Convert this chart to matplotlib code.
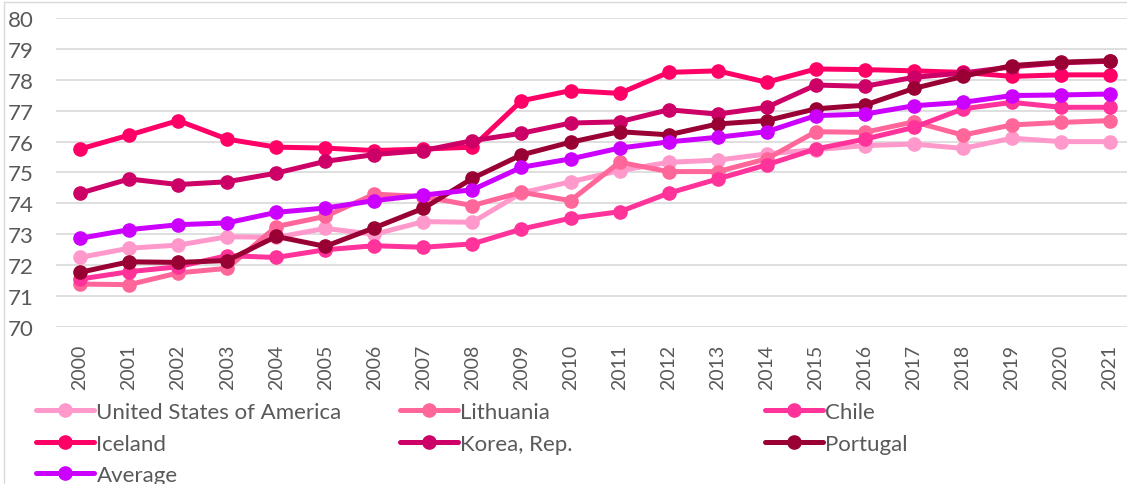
import numpy as np
import matplotlib.pyplot as plt
from matplotlib.patches import Rectangle

years = [str(y) for y in range(2000, 2022)]

usa = [72.25, 72.55, 72.65, 72.92, 72.90, 73.19, 73.00, 73.41, 73.39, 74.34, 74.70,
       75.06, 75.33, 75.40, 75.60, 75.74, 75.87, 75.92, 75.78, 76.11, 76.00, 76.00]
lithuania = [71.39, 71.37, 71.75, 71.90, 73.25, 73.58, 74.30, 74.22, 73.93, 74.36, 74.09,
             75.33, 75.03, 75.03, 75.44, 76.32, 76.30, 76.64, 76.21, 76.54, 76.62, 76.68]
chile = [71.55, 71.79, 71.95, 72.31, 72.25, 72.50, 72.63, 72.58, 72.69, 73.17, 73.52,
         73.73, 74.33, 74.79, 75.25, 75.76, 76.08, 76.46, 77.06, 77.27, 77.11, 77.11]
iceland = [75.76, 76.21, 76.68, 76.08, 75.82, 75.79, 75.71, 75.76, 75.82, 77.32, 77.65,
           77.56, 78.24, 78.29, 77.92, 78.35, 78.33, 78.29, 78.24, 78.11, 78.16, 78.16]
korea = [74.33, 74.79, 74.61, 74.70, 74.98, 75.36, 75.58, 75.71, 76.03, 76.27, 76.60,
         76.64, 77.03, 76.89, 77.11, 77.83, 77.79, 78.08, 78.22, 78.42, 78.55, 78.60]
portugal = [71.77, 72.11, 72.09, 72.15, 72.93, 72.61, 73.21, 73.84, 74.81, 75.57, 75.98,
            76.32, 76.22, 76.57, 76.68, 77.06, 77.18, 77.72, 78.11, 78.46, 78.57, 78.62]
average = [72.87, 73.15, 73.31, 73.37, 73.71, 73.85, 74.09, 74.27, 74.44, 75.17, 75.44,
           75.79, 75.99, 76.14, 76.32, 76.84, 76.89, 77.16, 77.27, 77.49, 77.51, 77.54]

series = [
    ("United States of America", usa, "#FF99CC"),
    ("Lithuania", lithuania, "#FF6699"),
    ("Chile", chile, "#FF3399"),
    ("Iceland", iceland, "#FF0066"),
    ("Korea, Rep.", korea, "#CC0066"),
    ("Portugal", portugal, "#990033"),
    ("Average", average, "#CC00FF"),
]

plt.rcParams['font.family'] = ['Lato', 'DejaVu Sans']
txt = '#595959'

fig = plt.figure(figsize=(11.27, 4.85), dpi=100)
ax = fig.add_axes([55.5 / 1127, 1 - 328 / 485, (1127 - 55.5) / 1127, 309 / 485])

x = np.arange(len(years))
lines = {}
for name, vals, col in series:
    ln, = ax.plot(x, vals, color=col, lw=3.6, marker='o', ms=9.5,
                  solid_capstyle='round', label=name)
    lines[name] = ln

ax.set_xlim(-0.5, (1127 - 80) / 49.05)
ax.set_ylim(70, 80)
ax.set_yticks(range(70, 81))
ax.set_xticks(x)
ax.set_xticklabels(years, rotation=90)
ax.grid(axis='y', color='#D9D9D9', lw=1.2)
ax.set_axisbelow(True)
for s in ax.spines.values():
    s.set_visible(False)
ax.tick_params(axis='y', length=0, pad=16, labelsize=16, labelcolor=txt)
ax.tick_params(axis='x', length=0, pad=12, labelsize=14, labelcolor=txt)

# outer chart border
fig.patches.append(Rectangle((4 / 1127, -0.1), 1.2, 1.1 - 3 / 485, transform=fig.transFigure,
                             fill=False, ec='#D9D9D9', lw=1))

# legend laid out as three fixed-width columns
cols = [(["United States of America", "Iceland", "Average"], 36),
        (["Lithuania", "Korea, Rep."], 400),
        (["Chile", "Portugal"], 765)]
for names, xpx in cols:
    fig.legend([lines[n] for n in names], names, loc='upper left',
               bbox_to_anchor=(xpx / 1127, 1 - 403 / 485), frameon=False,
               numpoints=1, handlelength=2.6, handletextpad=0.12,
               labelspacing=0.52, borderaxespad=0, borderpad=0,
               prop={'size': 16}, labelcolor=txt)

fig.savefig('out.png', dpi=100)
